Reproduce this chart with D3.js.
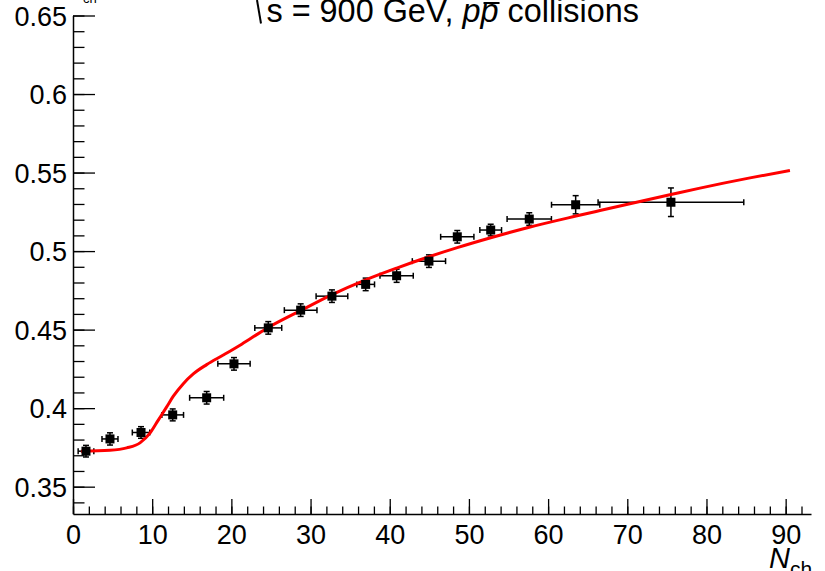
<!DOCTYPE html>
<html><head><meta charset="utf-8">
<script src="https://cdn.jsdelivr.net/npm/d3@7"></script>
<style>
html,body{margin:0;padding:0;background:#fff;}
svg{display:block;}
text{font-family:"Liberation Sans",Arial,Helvetica,sans-serif;fill:#000;}
</style></head>
<body>
<svg id="chart" width="825" height="571"></svg>
<script>
// ---- data ----
const nch      = [1.64, 4.67, 8.59, 12.59, 16.88, 20.33, 24.66, 28.75, 32.70, 36.96, 40.87, 44.95, 48.53, 52.75, 57.62, 63.48, 75.51];
const meanPt   = [0.3726, 0.3804, 0.3845, 0.3957, 0.4066, 0.4282, 0.4511, 0.4624, 0.4713, 0.4788, 0.4843, 0.4936, 0.5091, 0.5134, 0.5204, 0.5295, 0.5311];
const nchErr   = [0.99, 1.01, 1.10, 1.37, 2.15, 2.04, 1.70, 2.06, 2.00, 1.12, 2.10, 2.10, 2.10, 1.37, 2.80, 3.05, 9.20];
const meanPtErr= [0.0037, 0.0039, 0.0037, 0.0038, 0.0040, 0.0040, 0.0040, 0.0040, 0.0040, 0.0040, 0.0042, 0.0040, 0.0040, 0.0037, 0.0040, 0.0058, 0.0091];

const curveX = [1.0, 4.67, 6.78, 8.46, 9.72, 10.77, 11.83, 12.67, 13.93, 15.19, 16.88, 18.98, 21.09, 23.2, 24.66, 28.75, 32.71, 36.96, 40.88, 44.95, 48.53, 52.75, 57.62, 63.52, 66.55, 75.51, 79.18, 85.5, 90.54];
const curveY = [0.3726, 0.3732, 0.3747, 0.3779, 0.3841, 0.3924, 0.4008, 0.4076, 0.4156, 0.4218, 0.4277, 0.4338, 0.4401, 0.4468, 0.4513, 0.4621, 0.4723, 0.4817, 0.4892, 0.4964, 0.5022, 0.5085, 0.5152, 0.5223, 0.5258, 0.5360, 0.5401, 0.5466, 0.5513];

const xMajorTicks = [0, 10, 20, 30, 40, 50, 60, 70, 80, 90];
const xTickLabels = ["0", "10", "20", "30", "40", "50", "60", "70", "80", "90"];
const yMajorTicks = [0.35, 0.4, 0.45, 0.5, 0.55, 0.6, 0.65];
const yTickLabels = ["0.35", "0.4", "0.45", "0.5", "0.55", "0.6", "0.65"];
const xMinorTicks = d3.range(0, 93, 2);
const yMinorTicks = d3.range(34, 66, 1).map(v => v / 100);

// ---- layout ----
const svg = d3.select("#chart");
const X0 = 73, X1 = 811, YB = 514, YT = 15.5;
const x = d3.scaleLinear().domain([0, 93.2]).range([X0, X1]);
const y = d3.scaleLinear().domain([0.3326, 0.65]).range([YB, YT]);

svg.append("rect").attr("width", 825).attr("height", 571).attr("fill", "#fff");

// axes
const gx = svg.append("g").attr("transform", `translate(0,${YB})`);
gx.call(d3.axisBottom(x).tickValues(xMinorTicks).tickSizeInner(-7.5).tickSizeOuter(0).tickFormat(""));
const gxM = svg.append("g").attr("transform", `translate(0,${YB})`);
gxM.call(d3.axisBottom(x).tickValues(xMajorTicks).tickSizeInner(-15).tickSizeOuter(0)
   .tickFormat((d, i) => xTickLabels[i]));
gxM.select(".domain").remove();
gxM.selectAll("text").attr("font-size", 27).attr("font-family", "Liberation Sans, Arial, sans-serif")
   .attr("dy", null).attr("y", 29.5);

const gy = svg.append("g").attr("transform", `translate(${X0},0)`);
gy.call(d3.axisLeft(y).tickValues(yMinorTicks).tickSizeInner(-11.5).tickSizeOuter(0).tickFormat(""));
const gyM = svg.append("g").attr("transform", `translate(${X0},0)`);
gyM.call(d3.axisLeft(y).tickValues(yMajorTicks).tickSizeInner(-22).tickSizeOuter(0)
   .tickFormat((d, i) => yTickLabels[i]));
gyM.select(".domain").remove();
gyM.selectAll("text").attr("font-size", 27).attr("font-family", "Liberation Sans, Arial, sans-serif")
   .attr("x", -6).attr("dy", "0.36em");

svg.selectAll(".domain").attr("stroke", "#000").attr("stroke-width", 1.5);
svg.selectAll(".tick line").attr("stroke", "#000").attr("stroke-width", 1.3);

// error bars
const pts = nch.map((v, i) => ({x: v, y: meanPt[i], ex: nchErr[i], ey: meanPtErr[i]}));
const eb = svg.append("g").attr("stroke", "#000").attr("stroke-width", 1.5).attr("fill", "none");
const cap = 3;
pts.forEach(p => {
  const cx = x(p.x), cy = y(p.y);
  const xl = x(p.x - p.ex), xr = x(p.x + p.ex);
  const yt = y(p.y + p.ey), yb = y(p.y - p.ey);
  eb.append("line").attr("x1", xl).attr("x2", xr).attr("y1", cy).attr("y2", cy);
  eb.append("line").attr("x1", xl).attr("x2", xl).attr("y1", cy - cap).attr("y2", cy + cap);
  eb.append("line").attr("x1", xr).attr("x2", xr).attr("y1", cy - cap).attr("y2", cy + cap);
  eb.append("line").attr("x1", cx).attr("x2", cx).attr("y1", yt).attr("y2", yb);
  eb.append("line").attr("x1", cx - cap).attr("x2", cx + cap).attr("y1", yt).attr("y2", yt);
  eb.append("line").attr("x1", cx - cap).attr("x2", cx + cap).attr("y1", yb).attr("y2", yb);
});

// curve
const line = d3.line().x(d => x(d[0])).y(d => y(d[1])).curve(d3.curveMonotoneX);
svg.append("path").datum(curveX.map((v, i) => [v, curveY[i]]))
   .attr("d", line).attr("fill", "none").attr("stroke", "#ff0000").attr("stroke-width", 3);

// markers
svg.append("g").selectAll("rect").data(pts).join("rect")
   .attr("x", d => x(d.x) - 4.5).attr("y", d => y(d.y) - 4.5)
   .attr("width", 9).attr("height", 9).attr("fill", "#000");

// title
const tfs = 32.4, tby = 22;
const tg = svg.append("g");
let cx = 266.5;
function piece(str, italic) {
  const t = tg.append("text").attr("x", cx).attr("y", tby).attr("font-size", tfs)
    .attr("font-style", italic ? "italic" : "normal").attr("xml:space", "preserve").text(str);
  const w = t.node().getComputedTextLength();
  const x0 = cx; cx += w; return [x0, w];
}
// sqrt stroke (top clipped)
tg.append("path").attr("d", "M257,0 L261,23.5").attr("stroke", "#000").attr("stroke-width", 2).attr("fill", "none");
piece("s = 900 GeV, ", false);
piece("p", true);
const [pbx, pbw] = piece("p", true);
tg.append("line").attr("x1", pbx + 3).attr("x2", pbx + pbw + 1).attr("y1", 3).attr("y2", 3)
  .attr("stroke", "#000").attr("stroke-width", 2);
piece(" collisions", false);

// y-axis title remnant (clipped at top)
svg.append("text").attr("x", 83).attr("y", 3).attr("font-size", 13).text("ch");

// x-axis title
const xt = svg.append("text").attr("x", 769).attr("y", 568).attr("font-size", 29);
xt.append("tspan").attr("font-style", "italic").text("N");
xt.append("tspan").attr("font-size", 21).attr("dy", 8).text("ch");
</script>
</body></html>
